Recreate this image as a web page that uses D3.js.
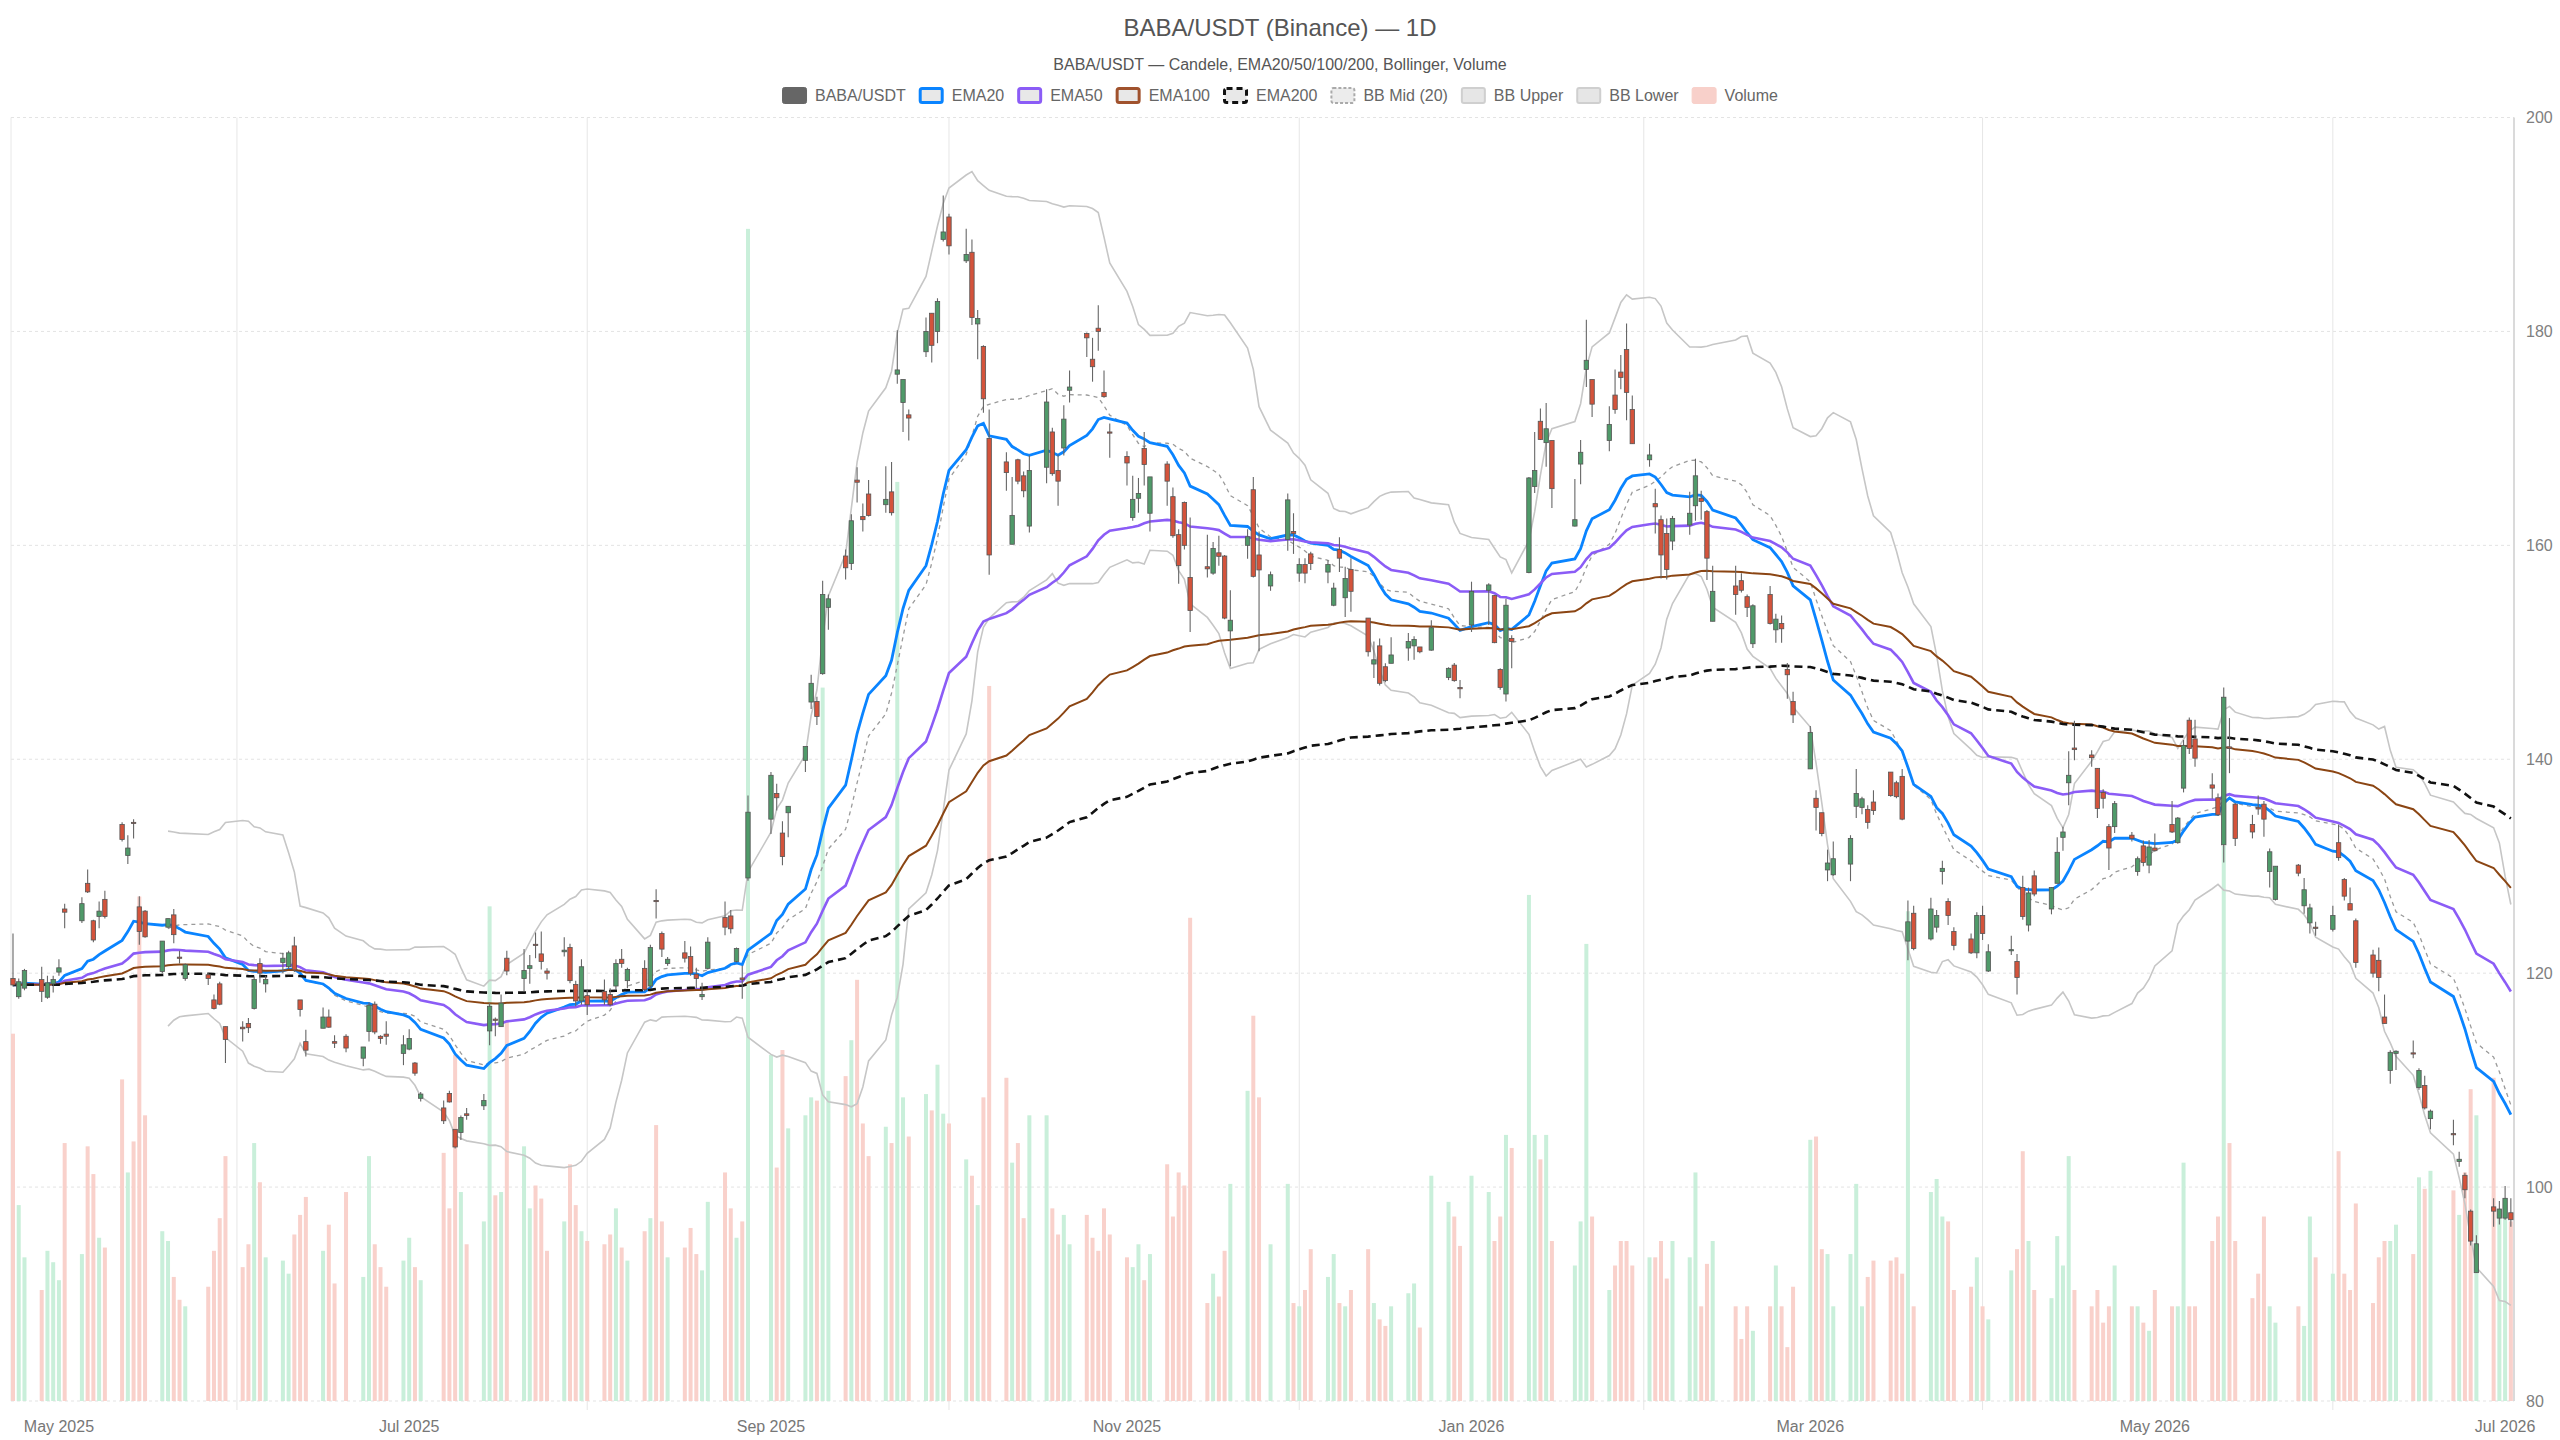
<!DOCTYPE html>
<html lang="en">
<head>
<meta charset="UTF-8">
<title>BABA/USDT (Binance) — 1D</title>
<script src="https://d3js.org/d3.v7.min.js"></script>
<style>
  body { margin: 0; background: #fff; }
  svg { display: block; font-family: "Liberation Sans", Arial, sans-serif; }
</style>
</head>
<body>
<div id="chart"></div>
<script>
// trading calendar (NYSE days between first and last bar)
const firstDay = "2025-04-23";
const lastDay = "2026-07-02";
const holidays = ["2025-05-26", "2025-06-19", "2025-07-04", "2025-09-01", "2025-11-27", "2025-12-25",
  "2026-01-01", "2026-01-19", "2026-02-16", "2026-04-03", "2026-05-25", "2026-06-19", "2026-07-03"];

const opens = [
  119.5, 117.8, 118.6, 119.4, 117.75, 119.0, 120.1, 126.0, 124.9, 128.4,
  124.9, 125.3, 126.9, 133.9, 131.0, 134.1, 126.2, 125.8, 120.15, 124.3,
  125.45, 121.5, 119.5, 119.85, 117.5, 119.0, 115.0, 114.95, 115.3, 116.7,
  120.9, 119.0, 121.0, 120.6, 122.55, 117.5, 113.6, 114.85, 115.9, 113.6,
  114.1, 112.05, 114.55, 117.1, 114.1, 114.3, 112.5, 112.9, 111.6, 108.3,
  107.4, 108.75, 105.4, 105.1, 106.85, 107.6, 114.6, 115.7, 115.0, 121.4,
  119.5, 120.45, 122.7, 121.8, 120.2, 122.0, 122.4, 118.95, 117.4, 117.9,
  118.3, 118.0, 118.8, 121.3, 119.3, 120.45, 118.8, 126.8, 123.7, 120.9,
  121.9, 121.55, 119.9, 117.8, 120.45, 125.2, 125.35, 121.1, 119.55, 128.9,
  134.4, 136.8, 133.1, 135.0, 139.9, 145.35, 145.4, 148.0, 154.2, 159.0,
  158.3, 166.1, 162.7, 164.8, 163.8, 165.0, 176.0, 173.35, 172.2, 178.1,
  181.7, 180.0, 188.6, 190.7, 186.6, 187.4, 180.7, 178.6, 170.0, 167.8,
  160.1, 168.0, 166.5, 161.8, 167.3, 170.6, 167.0, 169.1, 174.5, 179.8,
  177.4, 180.3, 174.3, 170.6, 168.3, 162.6, 164.4, 169.05, 163.0, 167.6,
  164.55, 161.0, 164.0, 157.0, 158.0, 157.4, 159.3, 159.0, 152.0, 160.0,
  165.2, 159.1, 156.2, 160.55, 161.3, 157.4, 158.2, 159.2, 157.5, 154.4,
  159.6, 155.1, 157.75, 153.2, 148.9, 150.6, 148.65, 148.97, 150.4, 150.6,
  150.5, 150.2, 147.65, 148.8, 146.7, 152.55, 155.8, 155.3, 148.4, 146.1,
  151.3, 157.45, 165.5, 171.6, 169.6, 169.8, 161.8, 167.6, 176.45, 175.5,
  169.8, 174.05, 176.2, 178.3, 172.7, 168.0, 163.9, 162.4, 161.1, 160.4,
  161.9, 163.7, 164.4, 163.15, 152.9, 156.2, 156.7, 155.2, 150.8, 155.4,
  152.1, 152.7, 148.4, 145.4, 139.1, 136.35, 135.0, 129.65, 129.2, 130.2,
  135.6, 135.5, 135.3, 136.0, 138.8, 137.8, 138.4, 123.0, 125.6, 123.2,
  124.3, 129.5, 126.7, 123.9, 123.2, 121.9, 125.4, 120.2, 122.1, 121.1,
  128.0, 124.5, 129.1, 126.0, 128.4, 132.7, 137.8, 141.05, 140.4, 139.15,
  136.9, 133.7, 133.7, 132.9, 129.5, 131.9, 130.1, 131.7, 133.9, 132.2,
  137.3, 143.65, 141.9, 137.6, 136.4, 132.0, 141.15, 135.8, 133.9, 135.5,
  135.8, 129.5, 126.9, 130.1, 126.3, 124.7, 124.3, 124.1, 132.2, 128.75,
  126.5, 124.9, 121.7, 121.2, 115.9, 110.9, 112.5, 112.55, 109.3, 109.5,
  106.4, 105.0, 102.4, 101.1, 97.75, 92.0, 98.15, 97.1, 97.1, 97.6
];
const highs = [
  123.7, 119.5, 120.4, 120.6, 119.75, 119.75, 121.3, 126.5, 127.1, 129.7,
  125.0, 126.7, 127.7, 134.1, 132.9, 134.4, 127.2, 125.9, 123.0, 125.1,
  126.0, 122.1, 120.9, 120.0, 118.0, 119.2, 115.0, 115.5, 115.8, 119.7,
  121.4, 119.75, 121.9, 122.1, 123.4, 117.5, 114.7, 116.8, 116.6, 114.2,
  114.3, 113.1, 117.25, 117.35, 114.2, 115.5, 114.2, 114.75, 111.7, 108.9,
  108.1, 109.0, 105.4, 106.7, 107.4, 108.7, 117.2, 115.85, 118.0, 122.1,
  122.25, 121.7, 123.8, 123.9, 120.45, 123.35, 122.75, 119.3, 121.3, 118.45,
  119.4, 118.6, 121.3, 122.25, 120.5, 121.2, 122.65, 127.85, 123.9, 121.5,
  123.0, 122.5, 120.5, 119.1, 123.35, 126.7, 125.9, 122.4, 120.7, 136.6,
  138.8, 137.7, 134.2, 135.6, 141.2, 147.9, 145.85, 156.7, 155.4, 159.6,
  162.9, 167.3, 163.9, 166.1, 167.4, 167.8, 180.1, 175.5, 172.7, 181.3,
  181.7, 183.1, 192.7, 191.0, 189.6, 188.6, 182.0, 178.7, 172.7, 168.7,
  166.4, 168.1, 166.9, 168.4, 174.6, 171.0, 168.5, 173.1, 176.35, 179.9,
  179.4, 182.45, 176.35, 171.4, 168.8, 166.5, 166.3, 170.6, 166.4, 167.85,
  165.4, 161.5, 164.1, 162.6, 161.0, 160.3, 160.9, 159.1, 155.8, 161.5,
  166.4, 161.3, 157.55, 164.85, 163.0, 158.8, 158.8, 159.4, 158.6, 156.5,
  160.75, 158.0, 158.8, 153.2, 151.0, 151.3, 148.97, 151.4, 151.8, 151.5,
  150.5, 153.0, 148.6, 149.0, 147.4, 156.6, 156.45, 155.35, 148.5, 155.0,
  151.6, 166.4, 170.6, 172.8, 173.3, 169.8, 166.2, 169.85, 181.1, 175.5,
  173.0, 176.45, 177.8, 180.75, 174.0, 169.5, 165.3, 162.8, 162.5, 162.75,
  165.0, 168.1, 165.1, 163.3, 158.1, 158.1, 157.4, 155.4, 154.5, 156.2,
  153.6, 153.45, 149.0, 146.3, 143.1, 137.1, 135.0, 131.55, 132.3, 132.9,
  139.1, 136.5, 135.7, 137.1, 138.8, 138.0, 139.1, 126.8, 126.3, 127.05,
  125.9, 130.5, 127.0, 124.3, 123.7, 125.7, 126.3, 122.7, 123.5, 121.8,
  129.1, 128.0, 129.6, 128.05, 132.7, 133.7, 140.75, 143.6, 140.85, 139.15,
  137.2, 133.95, 136.1, 133.2, 130.9, 132.4, 132.45, 133.05, 136.1, 134.6,
  141.8, 143.9, 143.7, 138.7, 136.8, 146.7, 143.85, 135.9, 134.8, 136.6,
  136.1, 131.65, 130.0, 130.2, 128.9, 126.5, 124.8, 126.3, 133.9, 128.9,
  128.0, 125.1, 122.2, 122.4, 118.0, 112.8, 112.8, 113.7, 111.1, 110.4,
  107.25, 106.3, 103.3, 101.35, 97.9, 95.5, 98.95, 98.7, 100.1, 98.95
];
const lows = [
  118.75, 117.6, 118.4, 117.3, 117.6, 118.2, 119.75, 124.2, 124.7, 127.5,
  122.9, 124.2, 125.1, 132.3, 130.2, 132.6, 122.65, 123.3, 120.0, 124.2,
  122.8, 120.9, 119.3, 118.9, 116.6, 117.0, 111.6, 113.6, 114.4, 116.6,
  119.1, 118.2, 120.0, 120.4, 120.1, 115.95, 112.2, 114.85, 114.9, 113.0,
  112.6, 111.3, 113.6, 114.3, 113.4, 113.3, 111.4, 112.8, 110.4, 108.0,
  105.9, 107.9, 103.6, 104.4, 106.3, 107.2, 113.25, 114.1, 115.0, 119.8,
  118.3, 119.0, 121.4, 120.35, 119.4, 121.55, 119.05, 116.9, 117.05, 116.1,
  117.05, 116.9, 118.45, 120.5, 118.6, 118.3, 118.6, 125.1, 121.5, 120.7,
  121.0, 119.75, 118.6, 117.5, 120.35, 123.55, 123.7, 121.0, 117.6, 128.65,
  133.0, 135.2, 130.1, 132.7, 138.8, 144.7, 143.2, 147.9, 152.1, 156.8,
  157.7, 164.0, 161.3, 162.7, 163.05, 162.8, 175.1, 170.6, 169.8, 177.6,
  177.1, 178.9, 188.4, 187.2, 186.4, 180.6, 177.4, 172.4, 157.25, 165.1,
  160.1, 165.7, 164.5, 161.2, 165.8, 166.5, 163.7, 168.4, 173.35, 177.6,
  175.3, 178.2, 173.8, 168.2, 165.6, 162.3, 163.05, 165.6, 161.3, 163.7,
  160.7, 156.4, 159.6, 151.9, 157.0, 157.25, 158.1, 153.1, 148.7, 158.75,
  157.0, 150.1, 155.75, 159.5, 159.2, 156.6, 156.45, 157.7, 156.45, 154.3,
  157.5, 153.3, 153.8, 149.6, 147.6, 146.9, 147.2, 148.97, 149.2, 149.3,
  149.9, 150.15, 147.4, 147.25, 145.7, 151.9, 152.55, 150.85, 146.5, 145.4,
  148.5, 157.4, 164.9, 169.85, 167.35, 163.5, 161.75, 165.7, 174.8, 172.0,
  168.8, 172.3, 174.6, 171.7, 169.5, 167.35, 161.1, 156.9, 156.8, 159.55,
  161.0, 162.3, 162.4, 156.75, 152.9, 153.5, 155.6, 153.3, 150.4, 152.6,
  150.9, 150.9, 145.65, 143.4, 139.1, 133.35, 132.8, 128.6, 129.1, 128.6,
  134.5, 134.85, 133.5, 134.8, 136.5, 136.35, 134.3, 121.2, 122.15, 123.05,
  123.8, 128.3, 124.5, 122.15, 121.8, 121.4, 123.1, 120.1, 121.7, 118.0,
  125.0, 123.9, 127.2, 125.5, 128.4, 131.45, 135.7, 139.9, 139.3, 134.5,
  135.4, 129.65, 133.1, 132.3, 129.1, 130.0, 129.35, 131.35, 133.1, 132.1,
  136.9, 140.5, 139.3, 136.3, 134.7, 130.35, 138.7, 131.9, 132.6, 134.8,
  132.75, 128.0, 126.8, 129.05, 125.55, 123.7, 123.5, 123.9, 130.5, 126.8,
  125.9, 120.5, 119.6, 118.3, 115.3, 109.65, 110.95, 112.05, 109.1, 107.25,
  105.4, 103.9, 101.9, 98.95, 94.55, 92.0, 96.3, 96.5, 96.95, 96.3
];
const closes = [
  118.9, 119.2, 120.25, 118.3, 119.1, 119.4, 120.5, 125.7, 126.5, 127.6,
  123.1, 125.8, 125.3, 132.5, 131.7, 134.05, 123.9, 123.4, 123.0, 125.1,
  123.6, 121.45, 120.8, 119.5, 116.7, 117.1, 113.8, 114.8, 114.9, 119.4,
  120.0, 119.4, 121.4, 121.9, 120.3, 116.6, 112.8, 115.9, 114.95, 113.45,
  113.0, 113.1, 117.0, 114.5, 113.9, 114.1, 113.3, 113.9, 110.65, 108.7,
  106.2, 107.96, 103.75, 106.5, 106.7, 108.1, 116.9, 115.6, 117.2, 120.2,
  120.25, 120.7, 122.6, 121.1, 120.0, 122.15, 119.3, 117.4, 120.6, 117.05,
  117.5, 117.05, 120.9, 120.9, 120.35, 118.45, 122.4, 126.7, 122.25, 121.3,
  121.4, 120.0, 119.5, 118.0, 122.9, 124.3, 124.15, 122.3, 119.4, 135.05,
  138.5, 136.4, 130.9, 135.6, 141.2, 147.1, 144.0, 155.4, 155.0, 157.9,
  162.3, 165.9, 162.4, 162.8, 164.3, 163.05, 176.4, 175.5, 171.9, 180.0,
  178.7, 182.8, 189.3, 188.0, 187.2, 181.3, 181.2, 173.7, 159.1, 166.8,
  162.8, 166.0, 165.1, 167.0, 173.4, 166.7, 166.0, 171.8, 174.8, 179.4,
  176.7, 180.0, 173.9, 170.5, 167.7, 164.3, 164.85, 167.55, 166.4, 166.0,
  160.9, 158.1, 160.0, 153.9, 157.8, 159.7, 158.97, 153.2, 153.0, 160.8,
  157.1, 157.7, 157.25, 164.25, 161.1, 158.2, 157.4, 158.3, 158.2, 156.0,
  158.8, 156.9, 155.7, 150.05, 149.3, 147.1, 147.35, 149.75, 151.0, 151.2,
  150.05, 152.3, 148.5, 147.35, 146.6, 155.7, 156.3, 150.9, 146.7, 154.4,
  151.0, 166.3, 167.0, 169.9, 170.9, 165.3, 162.4, 168.7, 177.3, 173.2,
  171.3, 172.7, 175.7, 174.3, 169.5, 168.45, 163.6, 159.1, 157.75, 162.5,
  163.0, 166.5, 164.1, 158.8, 155.7, 155.4, 155.8, 154.2, 154.35, 152.7,
  153.1, 152.2, 147.9, 144.15, 142.5, 135.5, 133.05, 130.3, 130.7, 132.6,
  136.8, 136.3, 134.1, 135.2, 136.6, 136.5, 134.4, 124.8, 122.3, 126.0,
  125.4, 129.8, 125.4, 122.6, 121.9, 125.4, 123.7, 122.0, 122.2, 119.6,
  125.3, 127.5, 127.4, 128.0, 131.3, 133.2, 138.5, 140.9, 140.15, 135.4,
  136.35, 131.7, 135.85, 132.6, 130.7, 130.35, 131.8, 131.45, 133.2, 134.5,
  141.3, 141.0, 140.1, 137.3, 134.8, 145.8, 141.0, 132.6, 133.2, 135.35,
  134.4, 131.35, 130.0, 129.35, 127.8, 126.1, 124.2, 125.4, 130.8, 127.2,
  125.9, 121.0, 120.0, 119.6, 115.3, 112.6, 112.7, 112.5, 110.9, 107.4,
  107.1, 104.9, 102.6, 99.75, 94.95, 94.7, 97.75, 97.95, 98.95, 96.95
];
const volumes = [
  225, 120, 88, 68, 92, 85, 74, 158, 90, 156,
  139, 100, 94, 197, 140, 159, 309, 175, 104, 98,
  76, 62, 58, 70, 92, 112, 150, 82, 96, 158,
  134, 88, 86, 78, 102, 114, 125, 92, 108, 72,
  128, 76, 150, 96, 82, 70, 86, 100, 82, 74,
  152, 118, 212, 128, 96, 110, 303, 126, 128, 233,
  156, 118, 132, 124, 92, 110, 145, 120, 104, 98,
  96, 102, 118, 94, 86, 104, 112, 169, 110, 88,
  94, 106, 90, 80, 122, 140, 118, 100, 110, 718,
  212, 143, 215, 167, 175, 186, 184, 437, 190, 199,
  221, 258, 170, 150, 168, 158, 563, 186, 162, 188,
  178, 206, 176, 170, 148, 138, 120, 186, 438, 198,
  146, 158, 112, 175, 175, 118, 102, 114, 96, 114,
  100, 92, 118, 102, 88, 82, 96, 74, 90, 145,
  113, 140, 132, 296, 60, 78, 64, 92, 133, 190,
  236, 186, 96, 133, 60, 58, 68, 93, 76, 90,
  60, 58, 68, 93, 60, 50, 46, 58, 66, 72,
  45, 138, 122, 113, 95, 138, 128, 98, 113, 163,
  155, 310, 163, 148, 163, 98, 83, 110, 280, 113,
  68, 83, 98, 98, 83, 88, 88, 98, 75, 98,
  88, 140, 58, 84, 98, 58, 38, 58, 43, 58,
  83, 58, 33, 70, 160, 162, 93, 90, 58, 90,
  133, 58, 76, 86, 86, 88, 78, 300, 58, 128,
  136, 113, 110, 68, 70, 88, 58, 50, 80, 93,
  153, 98, 68, 63, 101, 83, 150, 68, 58, 68,
  48, 58, 83, 58, 58, 48, 43, 68, 58, 58,
  146, 58, 58, 98, 113, 340, 158, 98, 63, 78,
  113, 58, 48, 58, 46, 113, 88, 78, 153, 78,
  68, 121, 60, 88, 98, 98, 108, 90, 137, 130,
  141, 129, 114, 140, 191, 175, 198, 115, 120, 110
];

const gridDates = ["2025-06-01", "2025-08-01", "2025-10-03", "2025-12-03", "2026-02-01", "2026-04-01", "2026-06-01"];
// month labels sit on the first trading day of each odd month
const labelDates = ["2025-05-01", "2025-07-01", "2025-09-02", "2025-11-03", "2026-01-02", "2026-03-02", "2026-05-01", "2026-07-01"];
const priceTicks = [80, 100, 120, 140, 160, 180, 200];
const emaPeriods = [20, 50, 100, 200];

const W = 2560, H = 1440;
const plot = {left: 11, right: 2514, top: 117.5, bottom: 1401};

// build the list of trading days
function tradingDays() {
    const out = [];
    const hol = new Set(holidays);
    const end = new Date(lastDay + "T00:00:00Z");
    for (let d = new Date(firstDay + "T00:00:00Z"); d <= end; d = new Date(d.getTime() + 864e5)) {
        const wd = d.getUTCDay();
        const key = d.toISOString().slice(0, 10);
        if (wd === 0 || wd === 6 || hol.has(key)) continue;
        out.push(d);
    }
    return out;
}

const days = tradingDays();
const n = Math.min(days.length, opens.length, highs.length, lows.length, closes.length, volumes.length);
if (n !== days.length || n !== opens.length) console.warn("length mismatch", days.length, opens.length, highs.length, lows.length, closes.length, volumes.length);

const bars = d3.range(n).map(i => ({
    date: days[i], o: opens[i], h: highs[i], l: lows[i], c: closes[i], v: volumes[i]
}));

function ema(vals, p) {
    const k = 2 / (p + 1);
    let prev = vals[0];
    return vals.map((v, i) => {
        if (i > 0) prev = v * k + prev * (1 - k);
        return prev;
    });
}

function bollinger(vals, p, m) {
    return vals.map((v, i) => {
        if (i < p - 1) return null;
        const w = vals.slice(i - p + 1, i + 1);
        const mean = d3.mean(w);
        const sd = Math.sqrt(d3.mean(w, x => (x - mean) * (x - mean)));
        return {mid: mean, up: mean + m * sd, lo: mean - m * sd};
    });
}

const closeVals = bars.map(b => b.c);
const emas = emaPeriods.map(p => ema(closeVals, p));
const bb = bollinger(closeVals, 20, 2);

const x = d3.scaleUtc()
    .domain([new Date(Date.UTC(2025, 3, 22, 15, 40)), new Date(Date.UTC(2026, 6, 2, 13, 10))])
    .range([plot.left, plot.right]);
const y = d3.scaleLinear().domain([80, 200]).range([plot.bottom, plot.top]);
const yVol = d3.scaleLinear().domain([0, d3.max(volumes) * 1.095]).range([plot.bottom, plot.top]);

const svg = d3.select("#chart").append("svg")
    .attr("width", W)
    .attr("height", H);

svg.append("rect").attr("width", W).attr("height", H).attr("fill", "#fff");

// title
svg.append("text")
    .attr("x", W / 2).attr("y", 36)
    .attr("text-anchor", "middle")
    .attr("font-size", 24)
    .attr("fill", "#555")
    .text("BABA/USDT (Binance) — 1D");

svg.append("text")
    .attr("x", W / 2).attr("y", 70)
    .attr("text-anchor", "middle")
    .attr("font-size", 16)
    .attr("fill", "#555")
    .text("BABA/USDT — Candele, EMA20/50/100/200, Bollinger, Volume");

// grid
const grid = svg.append("g");
grid.selectAll("line.h")
    .data(priceTicks)
    .join("line")
    .attr("x1", plot.left).attr("x2", plot.right)
    .attr("y1", d => y(d)).attr("y2", d => y(d))
    .attr("stroke", "#e3e3e3")
    .attr("stroke-dasharray", "3,3");

const gridX = gridDates.map(s => x(new Date(s + "T00:00:00Z")));
grid.selectAll("line.v")
    .data(gridX)
    .join("line")
    .attr("x1", d => d).attr("x2", d => d)
    .attr("y1", plot.top).attr("y2", plot.bottom + 9)
    .attr("stroke", "#e6e6e6");

grid.append("line")
    .attr("x1", plot.left).attr("x2", plot.left)
    .attr("y1", plot.top).attr("y2", plot.bottom)
    .attr("stroke", "#e8e8e8");

// right axis
svg.append("line")
    .attr("x1", plot.right).attr("x2", plot.right)
    .attr("y1", plot.top).attr("y2", plot.bottom)
    .attr("stroke", "#dadada")
    .attr("stroke-width", 2);

svg.append("g").selectAll("text")
    .data(priceTicks)
    .join("text")
    .attr("x", plot.right + 12)
    .attr("y", d => y(d) + 5.5)
    .attr("font-size", 16)
    .attr("fill", "#808080")
    .text(d => d);

// bottom axis labels
const fmt = d3.utcFormat("%b %Y");
svg.append("g").selectAll("text")
    .data(labelDates)
    .join("text")
    .attr("x", d => x(new Date(d + "T00:00:00Z")))
    .attr("y", 1432)
    .attr("text-anchor", "middle")
    .attr("font-size", 16)
    .attr("fill", "#777")
    .text(d => fmt(new Date(d + "T00:00:00Z")));

const bodyW = 4.4;
const upCol = "#4f9a69", downCol = "#d4533b";

// volume
svg.append("g").selectAll("rect")
    .data(bars)
    .join("rect")
    .attr("x", d => x(d.date) - 2)
    .attr("y", d => yVol(d.v))
    .attr("width", 4)
    .attr("height", d => plot.bottom - yVol(d.v))
    .attr("fill", d => d.c >= d.o ? "#c9efda" : "#f9d1cb");

// bollinger
const lineOf = acc => d3.line()
    .defined((d, i) => acc(i) != null)
    .x(d => x(d.date))
    .y((d, i) => y(acc(i)));

const gLines = svg.append("g").attr("fill", "none");
gLines.append("path").datum(bars)
    .attr("d", lineOf(i => bb[i] && bb[i].up))
    .attr("stroke", "#c6c6c6").attr("stroke-width", 1.6);
gLines.append("path").datum(bars)
    .attr("d", lineOf(i => bb[i] && bb[i].lo))
    .attr("stroke", "#c6c6c6").attr("stroke-width", 1.6);
gLines.append("path").datum(bars)
    .attr("d", lineOf(i => bb[i] && bb[i].mid))
    .attr("stroke", "#9a9a9a").attr("stroke-width", 1.3)
    .attr("stroke-dasharray", "4,4");

// EMAs
const emaStyles = [
    {color: "#0a84ff", width: 2.8, dash: null},
    {color: "#8b5cf6", width: 2.6, dash: null},
    {color: "#8b4513", width: 2, dash: null},
    {color: "#111", width: 2.6, dash: "8,5"}
];
emas.forEach((vals, k) => {
    gLines.append("path").datum(bars)
        .attr("d", lineOf(i => vals[i]))
        .attr("stroke", emaStyles[k].color)
        .attr("stroke-width", emaStyles[k].width)
        .attr("stroke-dasharray", emaStyles[k].dash);
});

// candles
const gC = svg.append("g");
const candle = gC.selectAll("g")
    .data(bars)
    .join("g");

candle.append("line")
    .attr("x1", d => x(d.date)).attr("x2", d => x(d.date))
    .attr("y1", d => y(d.h)).attr("y2", d => y(d.l))
    .attr("stroke", "#666")
    .attr("stroke-width", 1.1);

candle.append("rect")
    .attr("x", d => x(d.date) - bodyW / 2)
    .attr("y", d => y(Math.max(d.o, d.c)))
    .attr("width", bodyW)
    .attr("height", d => Math.max(1.2, Math.abs(y(d.o) - y(d.c))))
    .attr("fill", d => d.c >= d.o ? upCol : downCol)
    .attr("stroke", "#555")
    .attr("stroke-width", 0.8);

// legend
const legendItems = ["BABA/USDT", "EMA20", "EMA50", "EMA100", "EMA200", "BB Mid (20)", "BB Upper", "BB Lower", "Volume"];
const legendSwatch = [
    {fill: "#666", stroke: "#666", dash: null, sw: 1},
    {fill: "#e8e8e8", stroke: "#0a84ff", dash: null, sw: 3},
    {fill: "#e8e8e8", stroke: "#8b5cf6", dash: null, sw: 3},
    {fill: "#e8e8e8", stroke: "#a0522d", dash: null, sw: 3},
    {fill: "#e8e8e8", stroke: "#111", dash: "6,4", sw: 3},
    {fill: "#ececec", stroke: "#aaa", dash: "3,2", sw: 2},
    {fill: "#e6e6e6", stroke: "#cfcfcf", dash: null, sw: 2},
    {fill: "#e6e6e6", stroke: "#cfcfcf", dash: null, sw: 2},
    {fill: "#f8d0ca", stroke: "#f8d0ca", dash: null, sw: 1}
];
const leg = svg.append("g");
let cx = 0;
legendItems.forEach((name, k) => {
    const s = legendSwatch[k];
    leg.append("rect")
        .attr("x", cx + s.sw / 2).attr("y", 87 + s.sw / 2)
        .attr("width", 25 - s.sw).attr("height", 17 - s.sw)
        .attr("rx", 2)
        .attr("fill", s.fill)
        .attr("stroke", s.stroke)
        .attr("stroke-width", s.sw)
        .attr("stroke-dasharray", s.dash);
    const t = leg.append("text")
        .attr("x", cx + 33).attr("y", 101)
        .attr("font-size", 16)
        .attr("fill", "#666")
        .text(name);
    cx += 33 + t.node().getComputedTextLength() + 13;
});
leg.attr("transform", `translate(${W / 2 - (cx - 13) / 2},0)`);
</script>
</body>
</html>
